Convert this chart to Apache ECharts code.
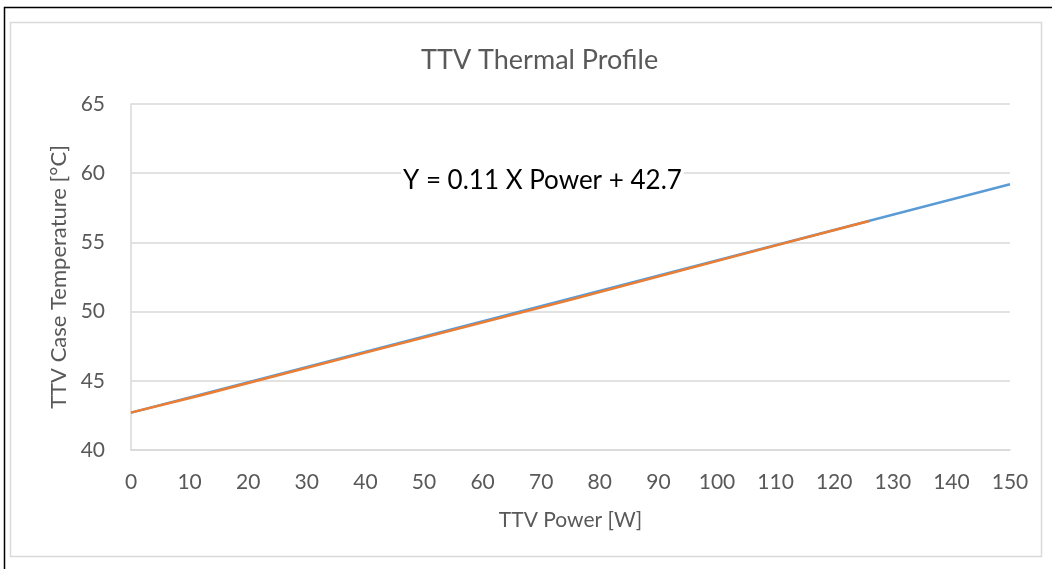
<!DOCTYPE html>
<html>
<head>
<meta charset="utf-8">
<script src="https://cdn.jsdelivr.net/npm/echarts@6/dist/echarts.min.js"></script>
<style>
  html, body { margin: 0; padding: 0; background: #fff; }
  #chart { width: 1052px; height: 569px; }
</style>
</head>
<body>
<div id="chart"></div>
<script>
var fitPower = [0, 150];
var fitTemp = [42.7, 59.2];
var measPower = [0, 12, 42, 75, 108, 126];
var measTemp = [42.7, 43.95, 47.25, 50.85, 54.55, 56.55];

var xTicks = { min: 0, max: 150, interval: 10 };
var yTicks = { min: 40, max: 65, interval: 5 };

function pairs(xs, ys) {
    return xs.map(function(x, i) { return [x, ys[i]]; });
}

var grey = '#595959';
var font = 'Lato';

var chart = echarts.init(document.getElementById('chart'));
chart.setOption({
    animation: false,
    textStyle: { fontFamily: font },
    title: {
        text: 'TTV Thermal Profile',
        left: 416,
        top: 42,
        textStyle: { color: grey, fontSize: 27, fontWeight: 'normal', fontFamily: font }
    },
    grid: { left: 131, right: 42, top: 104, bottom: 119 },
    xAxis: {
        type: 'value',
        min: xTicks.min, max: xTicks.max, interval: xTicks.interval,
        name: 'TTV Power [W]',
        nameLocation: 'middle',
        nameGap: 60,
        nameTextStyle: { color: grey, fontSize: 21 },
        axisLine: { lineStyle: { color: '#d9d9d9', width: 1.5 } },
        axisTick: { show: false },
        axisLabel: { color: grey, fontSize: 21, margin: 22 },
        splitLine: { show: false }
    },
    yAxis: {
        type: 'value',
        min: yTicks.min, max: yTicks.max, interval: yTicks.interval,
        name: 'TTV Case Temperature [°C]',
        nameLocation: 'middle',
        nameGap: 57,
        nameTextStyle: { color: grey, fontSize: 22 },
        axisLine: { show: true, lineStyle: { color: '#d9d9d9', width: 1.5 } },
        axisTick: { show: false },
        axisLabel: { color: grey, fontSize: 21, margin: 26 },
        splitLine: { lineStyle: { color: '#d9d9d9', width: 1.5 } }
    },
    series: [{
        type: 'line',
        data: pairs(fitPower, fitTemp),
        showSymbol: false,
        lineStyle: { color: '#5B9BD5', width: 2.5 }
    }, {
        type: 'line',
        data: pairs(measPower, measTemp),
        showSymbol: false,
        lineStyle: { color: '#ED7D31', width: 2.5 }
    }],
    graphic: [{
        type: 'rect',
        shape: { x: 4.5, y: 7.5, width: 1100, height: 600 },
        style: { fill: null, stroke: '#000', lineWidth: 1.5 },
        silent: true
    }, {
        type: 'rect',
        shape: { x: 10.5, y: 22.5, width: 1031, height: 534 },
        style: { fill: null, stroke: '#d9d9d9', lineWidth: 1.5 },
        silent: true
    }, {
        type: 'text',
        left: 401,
        top: 166,
        z: 100,
        style: { text: 'Y = 0.11 X Power + 42.7', fill: '#000', fontSize: 26, fontFamily: font,
                 backgroundColor: '#fff', padding: [2, 2, 0, 2] }
    }]
});
</script>
</body>
</html>
